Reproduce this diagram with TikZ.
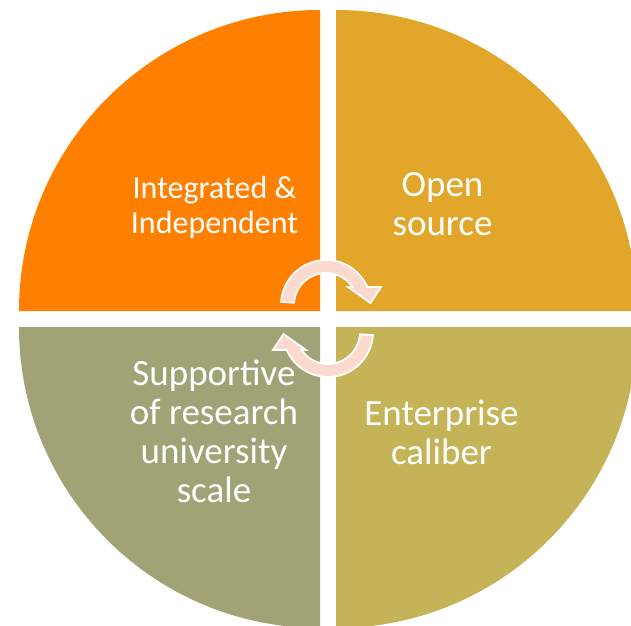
\documentclass[tikz,border=0pt]{standalone}
\usepackage{fontspec}
\setmainfont{Carlito}
\definecolor{qorange}{RGB}{255,128,0}
\definecolor{qgold}{RGB}{226,166,43}
\definecolor{qolive}{RGB}{161,163,118}
\definecolor{qkhaki}{RGB}{197,179,88}
\definecolor{arrowpink}{RGB}{252,217,207}
\begin{document}
\begin{tikzpicture}[x=1pt,y=1pt,
  lbl/.style={text=white, align=center, inner sep=0pt},
  bigtext/.style={font=\fontsize{37}{39}\selectfont},
  smalltext/.style={font=\fontsize{32}{35}\selectfont},
  cyc/.style={fill=arrowpink, draw=white, line width=1.8pt, line join=miter},
  cycarrow/.pic={
    \path[cyc] (176:45) arc[start angle=176,end angle=23.6,radius=45]
      -- (55,18) -- (44.5,2) -- (22,18) -- (34.2:32)
      arc[start angle=34.2,end angle=176,radius=32] -- cycle;
  }]
\useasboundingbox (-328,-306) rectangle (303,319);
\clip (-328,-306) rectangle (303,319);
% quadrants
\fill[qorange] (-8,8) -- (-8,309) arc[start angle=90,end angle=180,radius=301] -- cycle;
\fill[qgold] (8,8) -- (309,8) arc[start angle=0,end angle=90,radius=301] -- cycle;
\fill[qolive] (-8,-8) -- (-309,-8) arc[start angle=180,end angle=270,radius=301] -- cycle;
\fill[qkhaki] (8,-8) -- (8,-309) arc[start angle=270,end angle=360,radius=301] -- cycle;
% cycle arrows
\pic at (-2,14) {cycarrow};
\pic[rotate=180] at (0,-13) {cycarrow};
% labels
\node[lbl,smalltext] (tl) at (-113.5,110.5) {\strut Integrated \&\\\strut Independent};
\node[lbl,bigtext] (tr) at (114.5,110.8) {\strut Open\\\strut source};
\node[lbl,bigtext] (bl) at (-114,-116.7) {\strut Supportive\\\strut of research\\\strut university\\\strut scale};
\node[lbl,bigtext] (br) at (113.5,-118.2) {\strut Enterprise\\\strut caliber};
\end{tikzpicture}
\end{document}
